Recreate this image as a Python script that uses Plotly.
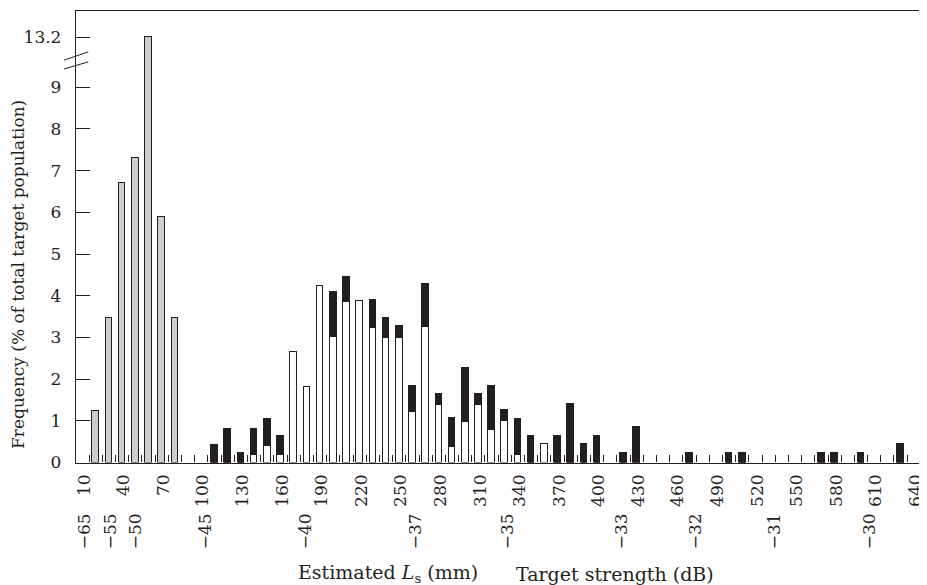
import plotly.graph_objects as go

# ---------------- data ----------------
# bins of 10 mm; bin value = lower edge (mm)
gray_bins = [10, 20, 30, 40, 50, 60, 70]
gray_vals = [1.24, 3.46, 6.70, 7.30, 13.2, 5.90, 3.46]

size_bins = [100, 110, 120, 130, 140, 150, 160, 170, 180, 190, 200, 210, 220, 230,
             240, 250, 260, 270, 280, 290, 300, 310, 320, 330, 340, 350, 360, 370,
             380, 390, 410, 420, 460, 490, 500, 560, 570, 590, 620]
white_vals = [0, 0, 0, 0.17, 0.39, 0.17, 2.64, 1.82, 4.24, 3.00, 3.86, 3.87, 3.23, 2.99,
              2.99, 1.21, 3.24, 1.37, 0.38, 0.98, 1.37, 0.78, 1.00, 0.18, 0, 0.44, 0, 0,
              0, 0, 0, 0, 0, 0, 0, 0, 0, 0, 0]
total_vals = [0.43, 0.81, 0.22, 0.81, 1.05, 0.63, 2.64, 1.82, 4.24, 4.08, 4.45, 3.87, 3.89, 3.47,
              3.27, 1.83, 4.27, 1.64, 1.06, 2.26, 1.64, 1.84, 1.26, 1.05, 0.63, 0.44, 0.63, 1.40,
              0.44, 0.63, 0.23, 0.86, 0.24, 0.24, 0.24, 0.24, 0.24, 0.24, 0.45]

len_ticks = list(range(10, 641, 30))
len_ticklabels = [str(v) for v in len_ticks]

ts_labels = ["\u221265", "\u221255", "\u221250", "\u221245", "\u221240", "\u221237",
             "\u221235", "\u221233", "\u221232", "\u221231", "\u221230"]
ts_pos_mm = [10, 30, 49, 102, 178, 261, 331, 417, 473, 533, 605]

y_ticks = [0, 1, 2, 3, 4, 5, 6, 7, 8, 9, 13.2]

# ---------------- axis break (9 -> 13.2 compressed) ----------------
BREAK_LO, BREAK_SHIFT = 9.0, 3.0


def disp(v):
    return v if v <= BREAK_LO else v - BREAK_SHIFT


BIN = 10.0
gray_x = [b + BIN / 2 for b in gray_bins]
size_x = [b + BIN / 2 for b in size_bins]
black_vals = [round(t - w, 3) for t, w in zip(total_vals, white_vals)]

INK = "#231f20"
FONT = "DejaVu Serif"

fig = go.Figure()
fig.add_trace(go.Bar(
    x=gray_x, y=[disp(v) for v in gray_vals], width=5,
    marker=dict(color="#cdcdcd", line=dict(color=INK, width=1)),
    customdata=gray_vals, hovertemplate="%{x} mm: %{customdata}%<extra></extra>",
    showlegend=False))
fig.add_trace(go.Bar(
    x=size_x, y=white_vals, width=5,
    marker=dict(color="white", line=dict(color=INK, width=1)),
    showlegend=False))
fig.add_trace(go.Bar(
    x=size_x, y=black_vals, width=5,
    marker=dict(color=INK, line=dict(color=INK, width=1)),
    showlegend=False))

# invisible trace to activate the target-strength axis
fig.add_trace(go.Scatter(x=[ts_pos_mm[0]], y=[0], xaxis="x2", yaxis="y",
                         mode="markers", marker=dict(opacity=0),
                         hoverinfo="skip", showlegend=False))

XR = [0, 642]
YR = [0, 10.83]
Y_DOM0 = 0.2134

# the page body adds an 8 px margin, so the figure is 8 px smaller than the window
fig.update_layout(
    width=919, height=577,
    margin=dict(l=68, r=4, t=3, b=0, autoexpand=False),
    paper_bgcolor="white", plot_bgcolor="white",
    barmode="stack", bargap=0,
    font=dict(family=FONT, size=17, color=INK),
    xaxis=dict(
        range=XR, domain=[0, 1], anchor="y", automargin=False,
        tickmode="array", tickvals=len_ticks, ticktext=len_ticklabels,
        tickangle=-90, ticks="inside", ticklen=7, tickwidth=1, tickcolor=INK,
        minor=dict(tickmode="array", tickvals=list(range(10, 641, 10)),
                   ticks="inside", ticklen=7, tickwidth=1, tickcolor=INK),
        showline=True, linecolor=INK, linewidth=1.3, mirror=True,
        showgrid=False, zeroline=False, ticklabelstandoff=4, ticklabelshift=-5,
        tickfont=dict(family=FONT, size=17, color=INK),
    ),
    xaxis2=dict(
        range=XR, overlaying="x", anchor="free", position=0.1324, side="bottom",
        automargin=False,
        tickmode="array", tickvals=ts_pos_mm, ticktext=ts_labels,
        tickangle=-90, ticks="", showline=False, showgrid=False, zeroline=False,
        ticklabelshift=-5,
        tickfont=dict(family=FONT, size=17, color=INK),
    ),
    yaxis=dict(
        range=YR, domain=[Y_DOM0, 1], automargin=False,
        tickmode="array", tickvals=[disp(v) for v in y_ticks],
        ticktext=[("%g" % v) for v in y_ticks],
        ticks="inside", ticklen=14, tickwidth=1, tickcolor=INK,
        showline=True, linecolor=INK, linewidth=1.3,
        showgrid=False, zeroline=False, ticklabelstandoff=10,
        tickfont=dict(family=FONT, size=17, color=INK),
    ),
)

# axis-break marks on the y axis
for y0, y1 in [(9.44, 9.61), (9.65, 9.85)]:
    fig.add_shape(type="line", xref="paper", yref="y",
                  x0=-0.0142, x1=0.0145, y0=y0, y1=y1,
                  line=dict(color=INK, width=1))

fig.add_annotation(text="Frequency (% of total target population)", textangle=-90,
                   xref="paper", yref="paper", x=-0.0685, y=0.5418,
                   xanchor="center", yanchor="middle", showarrow=False,
                   font=dict(family=FONT, size=17, color=INK))
fig.add_annotation(text="Estimated <i>L</i><sub>s</sub> (mm)",
                   xref="paper", yref="paper", x=0.3678, y=0.0192,
                   xanchor="center", yanchor="middle", showarrow=False,
                   font=dict(family=FONT, size=19, color=INK))
fig.add_annotation(text="Target strength (dB)",
                   xref="paper", yref="paper", x=0.6364, y=0.0192,
                   xanchor="center", yanchor="middle", showarrow=False,
                   font=dict(family=FONT, size=19, color=INK))

fig.write_html("out.html")
